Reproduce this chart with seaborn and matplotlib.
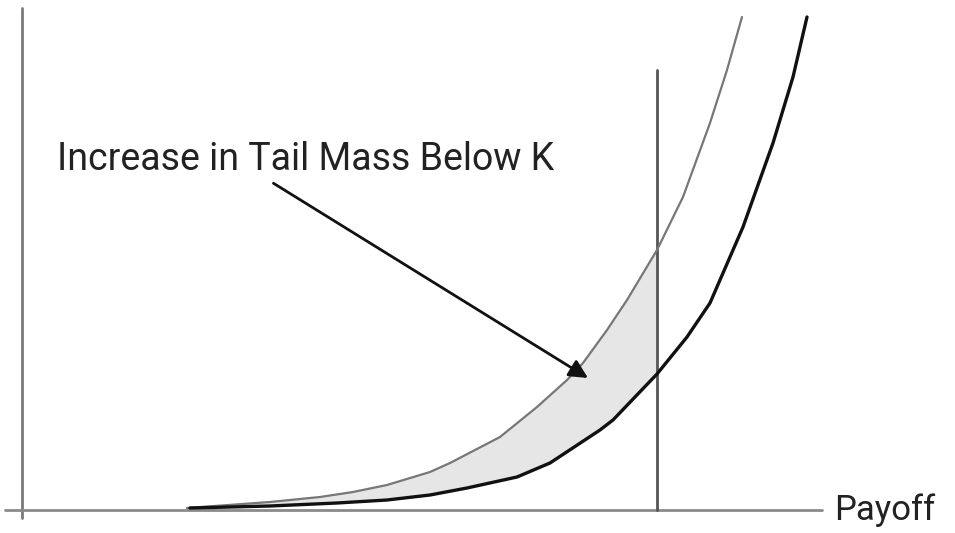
import numpy as np
import pandas as pd
import matplotlib
matplotlib.use("Agg")
import matplotlib.pyplot as plt
import seaborn as sns

# curve values (payoff, density-like height)
shifted_x = [165, 248, 298, 331, 365, 408, 428, 478, 515, 545, 561, 585,
             605, 635, 661, 688, 705, 720]
shifted_y = [2, 8, 13, 18, 25, 38, 47, 73, 103, 130, 147, 180,
             210, 260, 313, 387, 440, 493]
base_x = [168, 248, 315, 365, 408, 445, 495, 528, 578, 591, 635, 665,
          688, 721, 751, 771, 785]
base_y = [2, 4, 7, 10, 15, 22, 33, 47, 80, 90, 136, 173,
          207, 283, 367, 433, 493]
strike = 635
strike_top = 440
label = "Increase in Tail Mass Below K"
x_label = "Payoff"

sns.set_theme(style="white")
plt.rcParams['font.family'] = ['Roboto', 'DejaVu Sans']

fig = plt.figure(figsize=(9.55, 5.33), dpi=100)
ax = fig.add_axes([0, 0, 1, 1])

shifted = pd.DataFrame({'x': shifted_x, 'y': shifted_y})
base = pd.DataFrame({'x': base_x, 'y': base_y})

# shaded extra tail mass between the two curves, left of K
s_left = shifted[shifted.x <= strike]
b_left = base[base.x <= strike]
poly_x = list(s_left.x) + list(b_left.x[::-1])
poly_y = list(s_left.y) + list(b_left.y[::-1])
ax.fill(poly_x, poly_y, color='#e6e6e6', lw=0, zorder=1)

# axes lines
ax.plot([0, 0], [-8, 502], color='#7a7a7a', lw=2, zorder=2)
ax.plot([-17, 800], [0, 0], color='#8a8a8a', lw=2, zorder=2)
ax.plot([strike, strike], [0, strike_top], color='#555555', lw=2, zorder=2)

sns.lineplot(data=shifted, x='x', y='y', sort=False, estimator=None,
             color='#777777', lw=1.6, ax=ax, zorder=3)
sns.lineplot(data=base, x='x', y='y', sort=False, estimator=None,
             color='#111111', lw=2.4, ax=ax, zorder=3)
ax.set_xlim(-22, 933)
ax.set_ylim(-23, 510)
ax.axis('off')

ax.text(812, 0, x_label, fontsize=25, color='#222222', ha='left', va='center')
ax.annotate(label, xy=(566, 132), xytext=(35, 350), fontsize=27,
            color='#222222', ha='left', va='center',
            arrowprops=dict(arrowstyle='-|>', color='#111111', lw=2,
                            mutation_scale=28, shrinkA=2, shrinkB=0,
                            relpos=(0.42, 0)))

fig.savefig('out.png', dpi=100)
